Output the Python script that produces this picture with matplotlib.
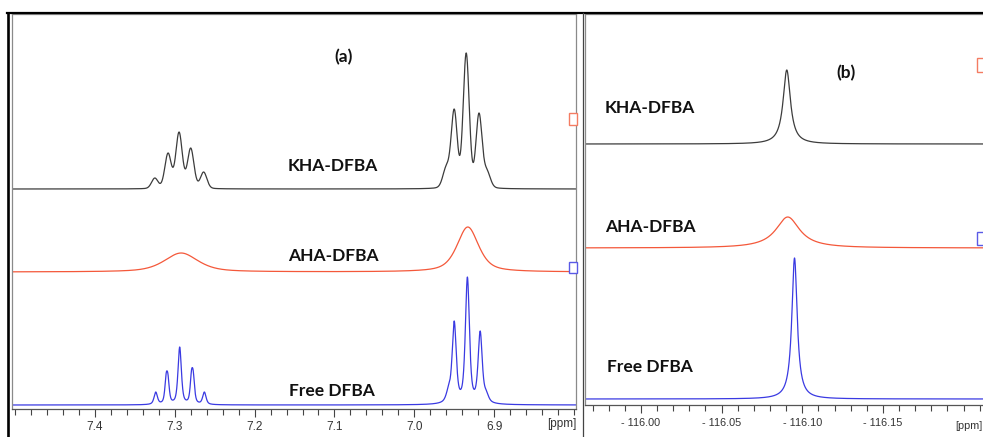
import numpy as np
import matplotlib
matplotlib.use("Agg")
import matplotlib.pyplot as plt
from matplotlib.lines import Line2D
from matplotlib.patches import Rectangle
from matplotlib.ticker import FixedLocator, MultipleLocator, FuncFormatter

W, H = 983, 437

# ---------------- panel (a): aromatic 1H region (ppm) ----------------
# each spectrum: peak positions (ppm), heights above its baseline, line widths (FWHM, ppm),
# Lorentzian fraction of the line shape, baseline level
kha_a_pos = [7.3250, 7.3084, 7.2946, 7.2800, 7.2638, 6.9600, 6.9500, 6.9350, 6.9190, 6.9090]
kha_a_height = [11, 36, 57, 41, 17, 24, 80, 136, 76, 20]
kha_a_width = [0.0095, 0.0095, 0.0095, 0.0095, 0.0095, 0.010, 0.009, 0.009, 0.009, 0.010]
kha_a_eta = 0.15
kha_a_base = 220

aha_a_pos = [7.2920, 6.9330]
aha_a_height = [19, 45]
aha_a_width = [0.050, 0.032]
aha_a_eta = 0.6
aha_a_base = 137

free_a_pos = [7.3238, 7.3107, 7.3085, 7.2938, 7.2790, 7.2768, 7.2629,
              6.9570, 6.9500, 6.9335, 6.9175, 6.9100]
free_a_height = [13, 32, 31, 58, 35, 34, 13, 20, 84, 128, 74, 15]
free_a_width = [0.005, 0.004, 0.004, 0.005, 0.004, 0.004, 0.005,
                0.007, 0.006, 0.006, 0.006, 0.007]
free_a_eta = 0.6
free_a_base = 4

ticks_a = [7.4, 7.3, 7.2, 7.1, 7.0, 6.9]

# ---------------- panel (b): 19F region (ppm) ----------------
kha_b_pos = [-116.0904]
kha_b_height = [74]
kha_b_width = [0.0055]
kha_b_eta = 1.0
kha_b_base = 261

aha_b_pos = [-116.0910]
aha_b_height = [31]
aha_b_width = [0.018]
aha_b_eta = 1.0
aha_b_base = 157

free_b_pos = [-116.0952]
free_b_height = [141]
free_b_width = [0.004]
free_b_eta = 1.0
free_b_base = 6

ticks_b = [-116.00, -116.05, -116.10, -116.15]

names = ["KHA-DFBA", "AHA-DFBA", "Free DFBA"]
col_black = "#3c3c3c"
col_red = "#f4583a"
col_blue = "#3a3ae2"


def line_shape(x, x0, w, eta):
    """Pseudo-Voigt line of unit height and full width w."""
    d = (x - x0) / w
    lor = 1.0 / (1.0 + 4.0 * d ** 2)
    gau = np.exp(-4.0 * np.log(2.0) * d ** 2)
    return eta * lor + (1.0 - eta) * gau


def spectrum(x, pos, height, width, eta, base):
    """Sum of lines whose summed curve reaches the given heights at the given positions."""
    pos = np.asarray(pos, float)
    height = np.asarray(height, float)
    width = np.asarray(width, float)
    A = np.array([[line_shape(p, q, w, eta) for q, w in zip(pos, width)] for p in pos])
    keep = np.ones(len(pos), bool)
    amp = np.zeros(len(pos))
    for _ in range(len(pos)):
        sol = np.linalg.solve(A[np.ix_(keep, keep)], height[keep])
        amp[:] = 0
        amp[keep] = sol
        if (sol >= 0).all():
            break
        idx = np.where(keep)[0][sol < 0]
        keep[idx] = False
    y = np.zeros_like(x)
    for a, q, w in zip(amp, pos, width):
        y += a * line_shape(x, q, w, eta)
    return base + y


fig = plt.figure(figsize=(W / 100, H / 100), dpi=100)
fig.patch.set_facecolor("white")


def px_axes(x0, x1, ytop, ybot):
    return fig.add_axes([x0 / W, 1 - ybot / H, (x1 - x0) / W, (ybot - ytop) / H])


# panel (a)
ax_a = px_axes(12, 576, 14, 409)
xa = np.linspace(7.5038, 6.7975, 5000)
for pos, hgt, wid, eta, base, c in [
    (kha_a_pos, kha_a_height, kha_a_width, kha_a_eta, kha_a_base, col_black),
    (aha_a_pos, aha_a_height, aha_a_width, aha_a_eta, aha_a_base, col_red),
    (free_a_pos, free_a_height, free_a_width, free_a_eta, free_a_base, col_blue),
]:
    ax_a.plot(xa, spectrum(xa, pos, hgt, wid, eta, base), color=c, lw=0.9)
ax_a.set_xlim(7.5038, 6.7975)
ax_a.set_ylim(0, 395)
ax_a.xaxis.set_major_locator(FixedLocator(ticks_a))
ax_a.xaxis.set_minor_locator(MultipleLocator(0.02))
ax_a.xaxis.set_major_formatter(FuncFormatter(lambda v, p: f"{v:.1f}"))

# panel (b)
ax_b = px_axes(585, 995, 14, 405)
xb = np.linspace(-115.9653, -116.2195, 5000)
for pos, hgt, wid, eta, base, c in [
    (kha_b_pos, kha_b_height, kha_b_width, kha_b_eta, kha_b_base, col_black),
    (aha_b_pos, aha_b_height, aha_b_width, aha_b_eta, aha_b_base, col_red),
    (free_b_pos, free_b_height, free_b_width, free_b_eta, free_b_base, col_blue),
]:
    ax_b.plot(xb, spectrum(xb, pos, hgt, wid, eta, base), color=c, lw=0.9)
ax_b.set_xlim(-115.9653, -116.2195)
ax_b.set_ylim(0, 391)
ax_b.xaxis.set_major_locator(FixedLocator(ticks_b))
ax_b.xaxis.set_minor_locator(MultipleLocator(0.01))
ax_b.xaxis.set_major_formatter(FuncFormatter(lambda v, p: f"- {abs(v):.2f}"))

for ax, fs in [(ax_a, 8.5), (ax_b, 7.8)]:
    ax.set_yticks([])
    ax.tick_params(axis="x", which="major", direction="out", length=6, width=0.8,
                   color="#444444", labelsize=fs, labelcolor="#333333", pad=3)
    ax.tick_params(axis="x", which="minor", direction="out", length=4, width=0.8,
                   color="#444444")
    for lab in ax.get_xticklabels():
        lab.set_fontfamily("Liberation Sans")
    for s in ["left", "right", "top"]:
        ax.spines[s].set_color("#8a8a8a")
        ax.spines[s].set_linewidth(0.9)
    ax.spines["bottom"].set_color("#555555")
    ax.spines["bottom"].set_linewidth(0.9)
ax_b.spines["right"].set_visible(False)

# unit labels at the end of each scale
fig.text(576 / W, 1 - 424 / H, "[ppm]", ha="right", va="center", fontsize=8.5,
         color="#333333", family="Liberation Sans")
fig.text(982 / W, 1 - 426 / H, "[ppm]", ha="right", va="center", fontsize=7.8,
         color="#333333", family="Liberation Sans")

# spectrum names and panel letters
lab_kw = dict(ha="center", va="center", fontsize=12.5, fontweight="bold",
              family=["Lato", "DejaVu Sans"], color="#111111")
fig.text(344 / W, 1 - 57 / H, "(a)", **lab_kw)
fig.text(846 / W, 1 - 73 / H, "(b)", **lab_kw)
for name, (xa_px, ya_px), (xb_px, yb_px) in zip(
        names,
        [(333, 166), (333, 256), (332, 391)],
        [(650, 108), (650, 227), (650, 367)]):
    fig.text(xa_px / W, 1 - ya_px / H, name, **lab_kw)
    fig.text(xb_px / W, 1 - yb_px / H, name, **lab_kw)

# small spectrum handles at the right edge of each panel
for (x0, y0, x1, y1, c) in [(569, 113, 577, 125, "#f47c62"), (569, 262, 577, 273, "#5a5ae6"),
                            (977, 58, 985, 72, "#f47c62"), (977, 232, 985, 245, "#5a5ae6")]:
    fig.add_artist(Rectangle((x0 / W, 1 - y1 / H), (x1 - x0) / W, (y1 - y0) / H,
                             transform=fig.transFigure, facecolor="white",
                             edgecolor=c, lw=1.0, zorder=5))

# outer frame lines
fig.add_artist(Line2D([7 / W, 1], [1 - 13 / H, 1 - 13 / H], transform=fig.transFigure,
                      color="black", lw=1.6, zorder=6))
fig.add_artist(Line2D([7.5 / W, 7.5 / W], [0, 1 - 13 / H], transform=fig.transFigure,
                      color="black", lw=1.9, zorder=6))
fig.add_artist(Line2D([582.5 / W, 582.5 / W], [0, 1 - 13 / H], transform=fig.transFigure,
                      color="#444444", lw=0.9, zorder=6))

fig.savefig("out.png", dpi=100, facecolor="white")
